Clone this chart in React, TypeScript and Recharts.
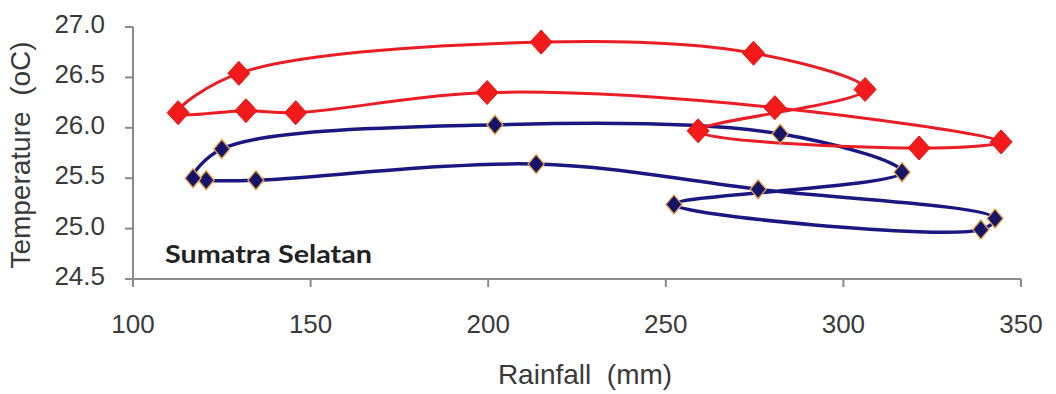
import React from 'react';
import { ComposedChart, Line, XAxis, YAxis, Customized } from 'recharts';

const months = ['Jan', 'Feb', 'Mar', 'Apr', 'May', 'Jun', 'Jul', 'Aug', 'Sep', 'Oct', 'Nov', 'Dec'];
const redRainfall = [259.1, 321.3, 344.4, 280.7, 199.7, 145.8, 131.8, 112.7, 129.8, 214.9, 274.7, 306.1];
const redTemperature = [25.97, 25.8, 25.86, 26.2, 26.35, 26.15, 26.17, 26.15, 26.54, 26.85, 26.74, 26.38];
const blueRainfall = [252.3, 338.7, 342.7, 276.0, 213.5, 134.6, 120.6, 116.9, 125.0, 201.9, 282.2, 316.5];
const blueTemperature = [25.24, 24.99, 25.1, 25.39, 25.64, 25.48, 25.48, 25.5, 25.79, 26.03, 25.94, 25.56];
const xTicks = [100, 150, 200, 250, 300, 350];
const yTicks = [24.5, 25.0, 25.5, 26.0, 26.5, 27.0];
const regionLabel = 'Sumatra Selatan';
const xTitle = 'Rainfall  (mm)';
const yTitle = 'Temperature  (oC)';

const redData = months.map((m, i) => ({ month: m, x: redRainfall[i], y: redTemperature[i] }));
const blueData = months.map((m, i) => ({ month: m, x: blueRainfall[i], y: blueTemperature[i] }));

const FONT = '"Liberation Sans", Arial, sans-serif';

// closed centripetal Catmull-Rom curve factory
const closedSmooth = (context: any) => {
  let pts: number[][] = [];
  const alpha = 0.5;
  const eps = 1e-12;
  return {
    areaStart() {},
    areaEnd() {},
    lineStart() {
      pts = [];
    },
    point(x: number, y: number) {
      pts.push([+x, +y]);
    },
    lineEnd() {
      const n = pts.length;
      if (!n) return;
      context.moveTo(pts[0][0], pts[0][1]);
      if (n < 3) {
        for (let i = 1; i < n; i++) context.lineTo(pts[i][0], pts[i][1]);
        return;
      }
      const d = (a: number[], b: number[]) => Math.hypot(b[0] - a[0], b[1] - a[1]);
      for (let i = 0; i < n; i++) {
        const p0 = pts[(i - 1 + n) % n];
        const p1 = pts[i];
        const p2 = pts[(i + 1) % n];
        const p3 = pts[(i + 2) % n];
        const l01a = Math.pow(d(p0, p1), alpha);
        const l12a = Math.pow(d(p1, p2), alpha);
        const l23a = Math.pow(d(p2, p3), alpha);
        const l01_2a = l01a * l01a;
        const l12_2a = l12a * l12a;
        const l23_2a = l23a * l23a;
        let x1 = p1[0];
        let y1 = p1[1];
        let x2 = p2[0];
        let y2 = p2[1];
        if (l01a > eps) {
          const a = 2 * l01_2a + 3 * l01a * l12a + l12_2a;
          const nn = 3 * l01a * (l01a + l12a);
          x1 = (x1 * a - p0[0] * l12_2a + p2[0] * l01_2a) / nn;
          y1 = (y1 * a - p0[1] * l12_2a + p2[1] * l01_2a) / nn;
        }
        if (l23a > eps) {
          const b = 2 * l23_2a + 3 * l23a * l12a + l12_2a;
          const m = 3 * l23a * (l23a + l12a);
          x2 = (x2 * b + p1[0] * l23_2a - p3[0] * l12_2a) / m;
          y2 = (y2 * b + p1[1] * l23_2a - p3[1] * l12_2a) / m;
        }
        context.bezierCurveTo(x1, y1, x2, y2, p2[0], p2[1]);
      }
      context.closePath();
    },
  };
};

const diamond = (cx: number, cy: number, hw: number, hh: number) =>
  `M${cx},${cy - hh}L${cx + hw},${cy}L${cx},${cy + hh}L${cx - hw},${cy}Z`;

const RedDot = (props: any) => {
  const { cx, cy, index } = props;
  return <path key={`r${index}`} d={diamond(cx, cy, 11, 12)} fill="#f21a1a" stroke="#e81010" strokeWidth={1} />;
};
const BlueDot = (props: any) => {
  const { cx, cy, index } = props;
  return <path key={`b${index}`} d={diamond(cx, cy, 8, 9.5)} fill="#16136a" stroke="#e8a040" strokeWidth={1.3} />;
};

const XTick = (props: any) => {
  const { x, y, payload } = props;
  return (
    <text x={x} y={y + 46} textAnchor="middle" fill="#3a3a3a" fontSize={26} fontFamily={FONT}>
      {payload.value}
    </text>
  );
};
const YTick = (props: any) => {
  const { x, y, payload } = props;
  return (
    <text x={x - 20} y={y + 6} textAnchor="end" fill="#3a3a3a" fontSize={26} fontFamily={FONT}>
      {Number(payload.value).toFixed(1)}
    </text>
  );
};

const Texts = () => (
  <g>
    <text x={585} y={384} textAnchor="middle" fill="#3a3a3a" fontSize={28} fontFamily={FONT} style={{ whiteSpace: 'pre' }}>
      {xTitle}
    </text>
    <text
      x={30}
      y={155}
      transform="rotate(-90 30 155)"
      textAnchor="middle"
      fill="#3a3a3a"
      fontSize={28}
      fontFamily={FONT}
      style={{ whiteSpace: 'pre' }}
    >
      {yTitle}
    </text>
    <text x={165} y={263} fill="#222" fontSize={25} fontWeight={700} fontFamily="Lato, 'Open Sans', sans-serif" textLength={207} lengthAdjust="spacingAndGlyphs">
      {regionLabel}
    </text>
  </g>
);

export default function App() {
  return (
    <div style={{ position: 'absolute', left: 0, top: 0, width: 1056, height: 394, background: '#fff' }}>
      <ComposedChart width={1056} height={394} margin={{ top: 27, right: 35, bottom: 0, left: 0 }}>
        <XAxis
          xAxisId="b"
          type="number"
          dataKey="x"
          domain={[100, 350]}
          ticks={xTicks}
          allowDataOverflow
          height={115}
          stroke="#8a8a8a"
          strokeWidth={2}
          tickSize={8}
          tickMargin={0}
          tick={<XTick />}
        />
        <XAxis xAxisId="t" orientation="top" type="number" domain={[100, 350]} height={0} tick={false} tickLine={false} stroke="#9a9a9a" strokeWidth={1.5} />
        <YAxis
          yAxisId="l"
          type="number"
          domain={[24.5, 27]}
          ticks={yTicks}
          allowDataOverflow
          width={133}
          stroke="#8a8a8a"
          strokeWidth={2}
          tickSize={8}
          tickMargin={0}
          tick={<YTick />}
        />
        <YAxis yAxisId="r" orientation="right" type="number" domain={[24.5, 27]} width={0} tick={false} tickLine={false} stroke="#9a9a9a" strokeWidth={1.5} />
        <Line
          xAxisId="b"
          yAxisId="l"
          data={blueData}
          dataKey="y"
          type={closedSmooth as any}
          stroke="#1a1880"
          strokeWidth={3.5}
          dot={BlueDot}
          activeDot={false}
          isAnimationActive={false}
        />
        <Line
          xAxisId="b"
          yAxisId="l"
          data={redData}
          dataKey="y"
          type={closedSmooth as any}
          stroke="#ea1c24"
          strokeWidth={3}
          dot={RedDot}
          activeDot={false}
          isAnimationActive={false}
        />
        <Customized component={Texts} />
      </ComposedChart>
    </div>
  );
}
